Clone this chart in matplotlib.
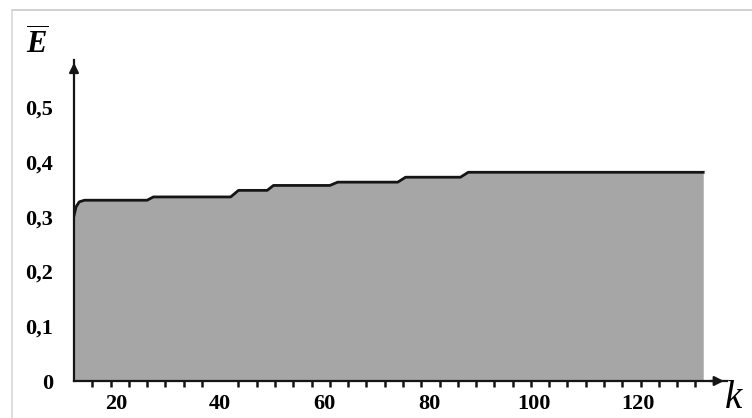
import numpy as np
import matplotlib.pyplot as plt
from matplotlib.lines import Line2D

plt.rcParams['mathtext.fontset'] = 'custom'
plt.rcParams['mathtext.it'] = 'Liberation Serif:italic:bold'
plt.rcParams['mathtext.rm'] = 'Liberation Serif:bold'

# values
k = [12, 12.4, 13, 14, 26, 27.2, 42, 43.5, 49, 50.2, 61, 62.5, 74, 75.5, 86, 87.5, 132.5]
E = [0.302, 0.318, 0.327, 0.330, 0.330, 0.336, 0.336, 0.348, 0.348, 0.357,
     0.357, 0.363, 0.363, 0.372, 0.372, 0.381, 0.381]
yticks = [0, 0.1, 0.2, 0.3, 0.4, 0.5]
ylabels = ['0', '0,1', '0,2', '0,3', '0,4', '0,5']
xticks = [20, 40, 60, 80, 100, 120]

fig = plt.figure(figsize=(7.52, 4.18), dpi=100)
ax = fig.add_axes([0.0984, 0.0885, 0.868, 0.768])

ax.fill_between(k, 0, E, color='#a6a6a6', lw=0)
ax.plot(k, E, color='#151515', lw=2, solid_joinstyle='round')

ax.set_xlim(12, 137)
ax.set_ylim(0, 0.586)
for s in ['top', 'right']:
    ax.spines[s].set_visible(False)
for s in ['left', 'bottom']:
    ax.spines[s].set_linewidth(1.6)
    ax.spines[s].set_color('#151515')

# arrow heads
ax.annotate('', xy=(1.0, 0), xytext=(0.97, 0), xycoords='axes fraction',
            arrowprops=dict(arrowstyle='-|>', color='#151515', lw=1.6, mutation_scale=14))
ax.annotate('', xy=(0, 1.0), xytext=(0, 0.95), xycoords='axes fraction',
            arrowprops=dict(arrowstyle='-|>', color='#151515', lw=1.6, mutation_scale=14))

ax.set_yticks(yticks)
ax.set_yticklabels(ylabels, fontfamily='Liberation Serif', fontweight='bold', fontsize=16)
ax.tick_params(axis='y', length=0, pad=15)

ax.set_xticks(xticks)
ax.set_xticklabels([str(v) for v in xticks], fontfamily='Liberation Serif',
                   fontweight='bold', fontsize=16)
ax.tick_params(axis='x', which='major', length=0, pad=9)
ax.set_xticks(np.arange(15.5, 133, 3.5), minor=True)
ax.tick_params(axis='x', which='minor', length=4, width=1.8, direction='out', color='#151515')

fig.text(733 / 752, 1 - 399 / 418, 'k', fontsize=28, ha='center', va='center',
         fontfamily='Liberation Serif', fontstyle='italic')
fig.text(37 / 752, 1 - 43 / 418, r'$\overline{E}$', fontsize=22, ha='center', va='center')

# light frame of the original image
fig.add_artist(Line2D([12 / 752, 1], [1 - 9.5 / 418] * 2, color='#c8c8c8', lw=1.2))
fig.add_artist(Line2D([12 / 752] * 2, [0, 1 - 9.5 / 418], color='#d8d8d8', lw=1.2))

fig.savefig('out.png', dpi=100)
